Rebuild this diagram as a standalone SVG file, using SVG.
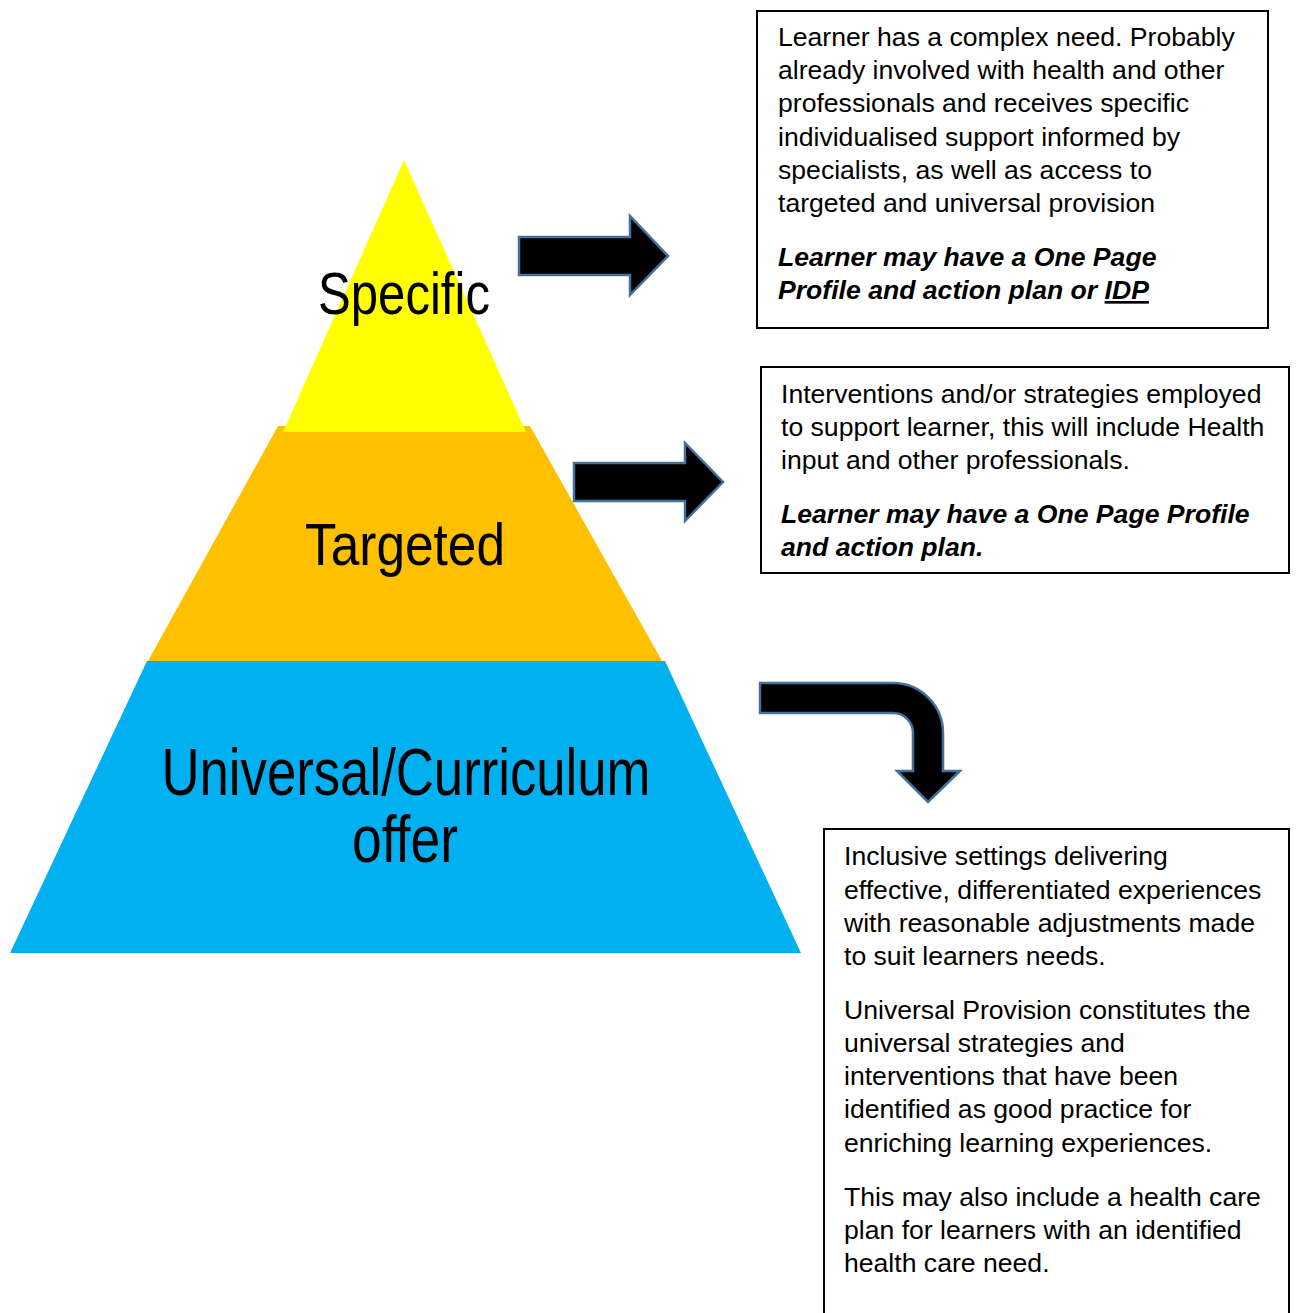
<svg xmlns="http://www.w3.org/2000/svg" width="1297" height="1313" viewBox="0 0 1297 1313">
<style>
.lvl{font-family:"Liberation Sans Narrow","Liberation Sans",Arial,sans-serif;font-size:60px;fill:#000;text-anchor:middle}
.big{font-size:66px}
.bx{fill:#fff;stroke:#000;stroke-width:2}
.t{font-family:"Liberation Sans",Arial,sans-serif;font-size:26.6px;fill:#000}
.bi{font-weight:bold;font-style:italic}
.arr{fill:#000;stroke:#41719c;stroke-width:2.5;stroke-linejoin:miter}
</style>
<rect width="1297" height="1313" fill="#fff"/>
<g id="pyramid">
<g id="universal">
<polygon points="147,661 665,661 801,953 10,953" fill="#00b0f0"/>
<text class="lvl big" x="406" y="795" textLength="489" lengthAdjust="spacingAndGlyphs">Universal/Curriculum</text>
<text class="lvl big" x="405" y="862" textLength="106" lengthAdjust="spacingAndGlyphs">offer</text>
</g>
<g id="targeted">
<polygon points="278,426 530,426 662,661 148,661" fill="#ffc000"/>
<text class="lvl" x="405" y="565" textLength="200" lengthAdjust="spacingAndGlyphs">Targeted</text>
</g>
<g id="specific">
<polygon points="404,160 526,432 283,432" fill="#ffff00"/>
<text class="lvl" x="404" y="314" textLength="172" lengthAdjust="spacingAndGlyphs">Specific</text>
</g>
</g>
<g id="connectors">
<polygon class="arr" points="519,237 630,237 630,216 668,256 630,295 630,275 519,275"/>
<polygon class="arr" points="574,463 685,463 685,443 723,482 685,521 685,501 574,501"/>
<path class="arr" d="M760,683 L893,683 A50,50 0 0 1 943,733 L943,771 L960,771 L928,802 L897,771 L913,771 L913,733 A20,20 0 0 0 893,713 L760,713 Z"/>
</g>
<g id="box-specific">
<rect class="bx" x="757" y="11" width="511" height="317"/>
<text class="t" x="778" y="46">Learner has a complex need. Probably</text>
<text class="t" x="778" y="79">already involved with health and other</text>
<text class="t" x="778" y="112">professionals and receives specific</text>
<text class="t" x="778" y="146">individualised support informed by</text>
<text class="t" x="778" y="179">specialists, as well as access to</text>
<text class="t" x="778" y="212">targeted and universal provision</text>
<text class="t bi" x="778" y="266">Learner may have a One Page</text>
<text class="t bi" x="778" y="299">Profile and action plan or <tspan text-decoration="underline">IDP</tspan></text>
</g>
<g id="box-targeted">
<rect class="bx" x="761" y="367" width="528" height="206"/>
<text class="t" x="781" y="403">Interventions and/or strategies employed</text>
<text class="t" x="781" y="436">to support learner, this will include Health</text>
<text class="t" x="781" y="469">input and other professionals.</text>
<text class="t bi" x="781" y="523">Learner may have a One Page Profile</text>
<text class="t bi" x="781" y="556">and action plan.</text>
</g>
<g id="box-universal">
<path class="bx" d="M824,1320 L824,829 L1289,829 L1289,1320"/>
<text class="t" x="844" y="865">Inclusive settings delivering</text>
<text class="t" x="844" y="899">effective, differentiated experiences</text>
<text class="t" x="844" y="932">with reasonable adjustments made</text>
<text class="t" x="844" y="965">to suit learners needs.</text>
<text class="t" x="844" y="1019">Universal Provision constitutes the</text>
<text class="t" x="844" y="1052">universal strategies and</text>
<text class="t" x="844" y="1085">interventions that have been</text>
<text class="t" x="844" y="1118">identified as good practice for</text>
<text class="t" x="844" y="1152">enriching learning experiences.</text>
<text class="t" x="844" y="1206">This may also include a health care</text>
<text class="t" x="844" y="1239">plan for learners with an identified</text>
<text class="t" x="844" y="1272">health care need.</text>
</g>
</svg>
